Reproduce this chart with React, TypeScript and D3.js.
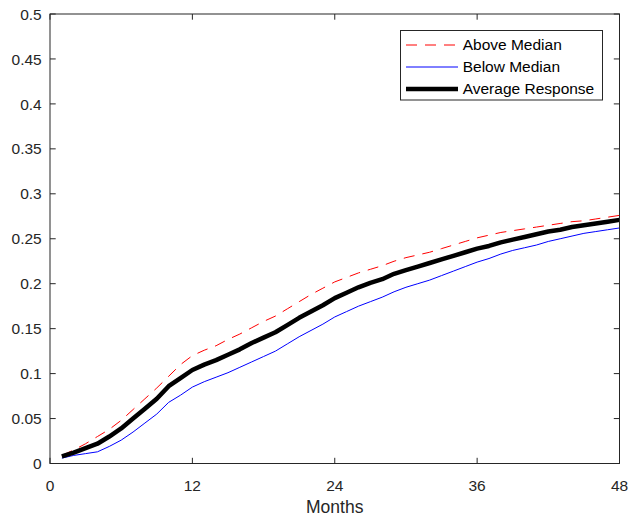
import React from "react";
import * as d3 from "d3";

const months = d3.range(1, 49);
const aboveMedian = [0.009, 0.015, 0.022, 0.030, 0.038, 0.048, 0.060, 0.072, 0.084, 0.097, 0.110, 0.120, 0.126, 0.131, 0.138, 0.144, 0.151, 0.158, 0.164, 0.172, 0.180, 0.188, 0.195, 0.202, 0.207, 0.212, 0.216, 0.220, 0.225, 0.229, 0.232, 0.235, 0.239, 0.243, 0.247, 0.251, 0.254, 0.257, 0.259, 0.261, 0.263, 0.265, 0.267, 0.269, 0.270, 0.272, 0.274, 0.276];
const belowMedian = [0.006, 0.009, 0.011, 0.013, 0.019, 0.026, 0.035, 0.045, 0.055, 0.068, 0.076, 0.085, 0.091, 0.096, 0.101, 0.107, 0.113, 0.119, 0.125, 0.133, 0.141, 0.148, 0.155, 0.163, 0.169, 0.175, 0.180, 0.185, 0.191, 0.196, 0.200, 0.204, 0.209, 0.214, 0.219, 0.224, 0.228, 0.233, 0.237, 0.240, 0.243, 0.247, 0.250, 0.253, 0.256, 0.258, 0.260, 0.262];
const averageResponse = [0.008, 0.012, 0.017, 0.022, 0.030, 0.039, 0.050, 0.061, 0.072, 0.086, 0.095, 0.104, 0.110, 0.115, 0.121, 0.127, 0.134, 0.140, 0.146, 0.154, 0.162, 0.169, 0.176, 0.184, 0.190, 0.196, 0.201, 0.205, 0.211, 0.215, 0.219, 0.223, 0.227, 0.231, 0.235, 0.239, 0.242, 0.246, 0.249, 0.252, 0.255, 0.258, 0.260, 0.263, 0.265, 0.267, 0.269, 0.271];
const xTicks = [0, 12, 24, 36, 48];
const yTicks = [0, 0.05, 0.1, 0.15, 0.2, 0.25, 0.3, 0.35, 0.4, 0.45, 0.5];
const seriesNames = ["Above Median", "Below Median", "Average Response"];

const W = 631, H = 516;
const L = 50, R = 619.5, T = 14, B = 463.5;
const FONT = "'Liberation Sans', Arial, Helvetica, sans-serif";
const AX = "#262626";

export default function App() {
  const x = d3.scaleLinear().domain([0, 48]).range([L, R]);
  const y = d3.scaleLinear().domain([0, 0.5]).range([B, T]);
  const line = (vals: number[]) =>
    d3.line<number>().x((_, i) => x(months[i])).y((v) => y(v))(vals) || "";
  const tl = 5.7;
  const styles = [
    { stroke: "#ff0000", width: 1, dash: "11 8" },
    { stroke: "#0000ff", width: 1, dash: undefined },
    { stroke: "#000000", width: 4.5, dash: undefined },
  ];
  const data = [aboveMedian, belowMedian, averageResponse];
  const lg = { x: 400.5, y: 30.5, w: 202, h: 69.5 };
  const rowY = [45, 67, 89];
  return (
    <svg width={W} height={H} style={{ position: "absolute", left: 0, top: 0, background: "#fff" }} fontFamily={FONT}>
      <rect x={0} y={0} width={W} height={H} fill="#fff" />
      <g>
        {data.map((d, i) => (
          <path key={i} d={line(d)} fill="none" stroke={styles[i].stroke} strokeWidth={styles[i].width}
            strokeDasharray={styles[i].dash} strokeLinejoin="round" />
        ))}
      </g>
      <rect x={L} y={T} width={R - L} height={B - T} fill="none" stroke={AX} strokeWidth={1} />
      {xTicks.map((t) => (
        <g key={"x" + t}>
          <line x1={x(t)} x2={x(t)} y1={B} y2={B - tl} stroke={AX} />
          <line x1={x(t)} x2={x(t)} y1={T} y2={T + tl} stroke={AX} />
          <text x={x(t)} y={490.5} textAnchor="middle" fontSize={15.5} fill={AX}>{t}</text>
        </g>
      ))}
      {yTicks.map((t) => (
        <g key={"y" + t}>
          <line x1={L} x2={L + tl} y1={y(t)} y2={y(t)} stroke={AX} />
          <line x1={R} x2={R - tl} y1={y(t)} y2={y(t)} stroke={AX} />
          <text x={41.7} y={y(t) + 5.6} textAnchor="end" fontSize={15.5} fill={AX}>{String(t)}</text>
        </g>
      ))}
      <text x={(L + R) / 2} y={513} textAnchor="middle" fontSize={17.5} fill={AX}>Months</text>
      <rect x={lg.x} y={lg.y} width={lg.w} height={lg.h} fill="#fff" stroke={AX} strokeWidth={1} />
      {seriesNames.map((n, i) => (
        <g key={n}>
          <line x1={406} x2={458} y1={rowY[i]} y2={rowY[i]} stroke={styles[i].stroke}
            strokeWidth={styles[i].width} strokeDasharray={styles[i].dash} />
          <text x={462.7} y={rowY[i] + 5.4} fontSize={15.5} fill="#000">{n}</text>
        </g>
      ))}
    </svg>
  );
}
